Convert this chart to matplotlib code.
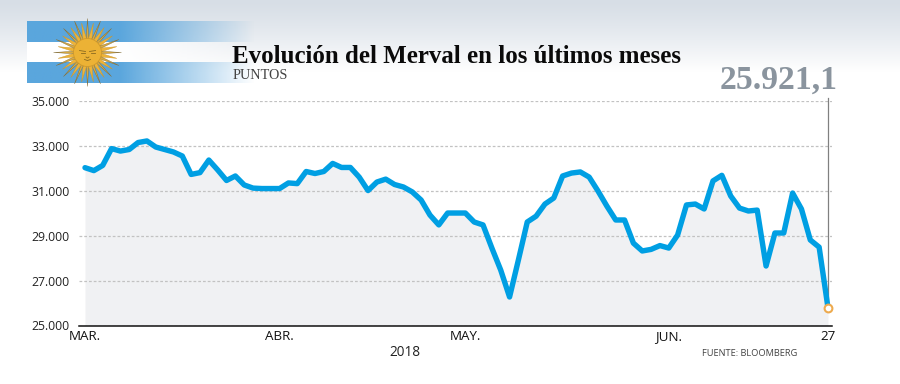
import numpy as np
import matplotlib
matplotlib.use("Agg")
import matplotlib.pyplot as plt
from matplotlib.patches import Circle, Polygon

values = [32030,31900,32130,32880,32770,32840,33150,33220,32950,32840,32730,32550,31730,31810,32370,
          31930,31460,31660,31260,31120,31100,31100,31100,31350,31320,31860,31770,31860,32220,32040,
          32040,31610,31010,31390,31520,31280,31170,30950,30590,29920,29480,30010,30010,30010,29610,
          29480,28450,27470,26270,27920,29610,29870,30410,30680,31660,31790,31840,31610,30990,30320,
          29700,29700,28670,28320,28390,28560,28450,29030,30370,30410,30190,31440,31690,30770,30230,
          30100,30140,27650,29120,29120,30900,30190,28810,28490,25790]
y_ticks = [25000,27000,29000,31000,33000,35000]
y_labels = ["25.000","27.000","29.000","31.000","33.000","35.000"]
x_ticks = [0,22,43,66,84]
x_labels = ["MAR.","ABR.","MAY.","JUN.","27"]
title = "Evolución del Merval en los últimos meses"
subtitle = "PUNTOS"
last_label = "25.921,1"
year = "2018"
source = "FUENTE: BLOOMBERG"

W, H = 900, 384
fig = plt.figure(figsize=(W/100, H/100), dpi=100, facecolor="white")

# background decoration in pixel coordinates
bg = fig.add_axes([0,0,1,1], zorder=0)
bg.set_xlim(0,W); bg.set_ylim(H,0); bg.axis("off")
grad = np.linspace(0,1,100).reshape(-1,1)
c0 = np.array([0xd7,0xde,0xe6])/255; c1 = np.array([1,1,1.])
img = c0 + (c1-c0)*grad[...,None]**1.25
bg.imshow(img, extent=[0,W,72,0], aspect="auto", zorder=0)
bg.set_xlim(0,W); bg.set_ylim(H,0)

def stripe(y0,y1,rgb):
    xs = np.linspace(0,1,256)
    alpha = np.clip(1-(xs*228-93)/135,0,1)
    arr = np.zeros((1,256,4)); arr[...,:3]=rgb; arr[...,3]=alpha
    bg.imshow(arr, extent=[27,255,y1,y0], aspect="auto", zorder=1, interpolation="bilinear")
blue = np.array([0x5a,0xa6,0xdd])/255
stripe(22,42.5,blue); stripe(42.5,62.3,np.array([1,1,1.])); stripe(62.3,83.3,blue)
bg.set_xlim(0,W); bg.set_ylim(H,0)

cx, cy = 87.5, 52.5
n = 32
for k in range(n):
    a = 2*np.pi*k/n + np.pi/2
    r = 34 if k%2==0 else 30
    w = 1.3 if k%2==0 else 1.9
    d = np.array([np.cos(a),np.sin(a)]); p = np.array([-d[1],d[0]])
    c = np.array([cx,cy])
    pts = [c+d*13+p*w, c+d*r, c+d*13-p*w]
    bg.add_patch(Polygon(pts, closed=True, fc="#eeb338" if k%2 else "#d9a93e",
                         ec="#7d6a3a" if k%2==0 else "#c9952c", lw=0.3, zorder=2))
bg.add_patch(Circle((cx,cy),14,fc="#ecb235",ec="#c9952c",lw=0.5,zorder=3))
for sx in (-1,1):
    bg.plot([cx+sx*8,cx+sx*2],[cy-2,cy-1],color="#8a6a20",lw=0.6,zorder=4)
    bg.plot([cx+sx*7,cx+sx*3],[cy,cy],color="#8a6a20",lw=0.6,zorder=4)
bg.plot([cx-3,cx,cx+3],[cy+7,cy+8,cy+7],color="#8a6a20",lw=0.6,zorder=4)
bg.plot([cx-1.5,cx,cx+1.5],[cy+4.5,cy+5.5,cy+4.5],color="#8a6a20",lw=0.6,zorder=4)

# chart
L,R,T,B = 79,832,101,325.5
ax = fig.add_axes([L/W,1-B/H,(R-L)/W,(B-T)/H], zorder=2)
ax.patch.set_alpha(0)
x = np.arange(len(values))
ax.set_xlim((L-85)/8.845,(R-85)/8.845)
ax.set_ylim(25000,35000)
ax.fill_between(x, values, 25000, color="#f0f1f3", lw=0, zorder=1)
ax.set_yticks(y_ticks); ax.set_yticklabels(y_labels, family="Open Sans", fontsize=8.8, color="#222222")
ax.set_xticks(x_ticks); ax.set_xticklabels(x_labels, family="Open Sans", fontsize=9.6, color="#111111")
ax.tick_params(length=0, axis="y", pad=7)
ax.tick_params(length=0, axis="x", pad=3.5)
ax.grid(axis="y", color="#c2c2c2", lw=0.9, ls=(0,(2.2,1.6)), zorder=2)
for s in ("top","left","right"):
    ax.spines[s].set_visible(False)
ax.spines["bottom"].set_color("#111111"); ax.spines["bottom"].set_linewidth(1.1)
ax.plot([x[-1],x[-1]],[values[-1],35130],color="#808080",lw=0.9,zorder=3,clip_on=False)
ax.plot(x, values, color="#009fe3", lw=3.9, solid_joinstyle="round", solid_capstyle="round", zorder=4)
ax.plot(x[-1], values[-1], "o", ms=5.6, mfc="white", mec="#edaa4e", mew=1.5, zorder=5, clip_on=False)

# texts
bg.text(232,63,title,family="Liberation Serif",fontweight="bold",fontsize=17.95,color="#0a0a0a",va="baseline",ha="left",zorder=6)
bg.text(233,79,subtitle,family="Liberation Serif",fontsize=10.3,color="#444444",va="baseline",ha="left",zorder=6)
bg.text(838,88.5,last_label,family="Liberation Serif",fontweight="bold",fontsize=24.2,color="#8a949e",va="baseline",ha="right",zorder=6)
bg.text(405,352,year,family="Open Sans",fontsize=9.8,color="#222222",va="center",ha="center",zorder=6)
bg.text(750,353,source,family="Open Sans",fontsize=6.7,color="#444444",va="center",ha="center",zorder=6)

fig.savefig("out.png", dpi=100)
